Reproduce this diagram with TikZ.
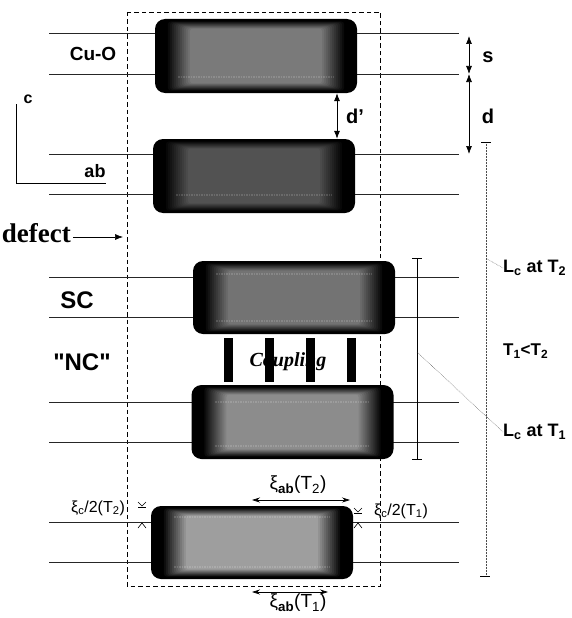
\documentclass[tikz,border=0pt]{standalone}
\usepackage{fontspec}
\setmainfont{Liberation Serif}
\setsansfont{Liberation Sans}
\newfontfamily\plainsans{Liberation Sans}
\usetikzlibrary{calc,arrows.meta}
\newcommand{\glowfill}[2]{%
  \foreach \k in {1,...,12}{%
    \pgfmathsetmacro\cc{100-(100-#2)*\k/12}%
    \pgfmathsetmacro\ddx{11+2*\k}%
    \pgfmathsetmacro\ddy{2+0.65*\k}%
    \fill[black!\cc, rounded corners=3pt] ($(#1.north west)+(\ddx,\ddy)$) rectangle ($(#1.south east)+(-\ddx,-\ddy)$);
  }}
\tikzset{
  blk/.style={fill=black, rounded corners=10pt, minimum width=202pt, minimum height=74pt, inner sep=0pt},
  plane/.style={line width=0.6pt, black!85},
  ghost/.style={line width=1.2pt, white, opacity=0.15, dash pattern=on 1.5pt off 1pt},
  lbl/.style={font=\sffamily\bfseries, inner sep=0pt},
  xlbl/.style={font=\sffamily, inner sep=0pt},
  dimarr/.style={{Latex[length=8pt,width=6pt]}-{Latex[length=8pt,width=6pt]}, line width=0.7pt},
  xiarr/.style={{Stealth[length=8pt,width=5pt]}-{Stealth[length=8pt,width=5pt]}, line width=0.6pt},
  bar/.style={fill=black, minimum width=9pt, minimum height=44pt, inner sep=0pt},
  leader/.style={densely dotted, line width=0.5pt, black!70},
  tickmark/.style={line width=0.6pt}
}
\begin{document}
\begin{tikzpicture}[x=1pt,y=-1pt]
\useasboundingbox (0,0) rectangle (572,618);
% dashed box
\draw[line width=0.8pt, dash pattern=on 4.5pt off 3pt] (127,12) rectangle (380,586);
% planes (lines)
\foreach \yy in {33,74,154,194,277,317,402,442,522,562}{
  \draw[plane] (49,\yy) -- (459,\yy);
}
% blocks
\node[blk] (b1) at (256,56) {};
\node[blk] (b2) at (254,176) {};
\node[blk, minimum height=73pt] (b3) at (294,297.5) {};
\node[blk] (b4) at (292.5,422) {};
\node[blk, minimum height=73pt] (b5) at (252,542.5) {};
\glowfill{b1}{52}
\glowfill{b2}{68}
\glowfill{b3}{55}
\glowfill{b4}{45}
\glowfill{b5}{38}
% faint planes seen through blocks
\draw[ghost] (178,77) -- (334,77);
\draw[ghost] (176,195) -- (332,195);
\draw[ghost] (216,274) -- (372,274);
\draw[ghost] (216,321) -- (372,321);
\draw[ghost] (215,402) -- (370,402);
\draw[ghost] (215,446) -- (370,446);
\draw[ghost] (174,517) -- (330,517);
\draw[ghost] (174,567) -- (330,567);
% coupling
\node[font=\rmfamily\bfseries\itshape\fontsize{20}{22}\selectfont, inner sep=0pt] (coup) at (288,362) {Coupling};
\node[bar] (k1) at (228,360) {};
\node[bar] (k2) at (269,360) {};
\node[bar] (k3) at (310,360) {};
\node[bar] (k4) at (351,360) {};
% left labels
\node[lbl, font=\sffamily\bfseries\fontsize{19}{21}\selectfont] (cuo) at (93,54) {Cu-O};
\node[lbl, font=\sffamily\bfseries\fontsize{16}{18}\selectfont] (cax) at (28,99) {c};
\node[lbl, font=\sffamily\bfseries\fontsize{18}{20}\selectfont] (abax) at (95,171) {ab};
\coordinate (ax0) at (16,104);
\coordinate (ax1) at (16,183);
\coordinate (ax2) at (106,183);
\draw[line width=0.6pt] (ax0) -- (ax1) -- (ax2);
\node[font=\rmfamily\bfseries\fontsize{27}{29}\selectfont, inner sep=0pt, anchor=east] (def) at (71,233) {defect};
\coordinate (defend) at (123,237);
\draw[-{Latex[length=8pt,width=6pt]}, line width=0.6pt] (73,237) -- (defend);
\node[lbl, font=\sffamily\bfseries\fontsize{24}{26}\selectfont] (sc) at (77,300) {SC};
\node[lbl, font=\plainsans\bfseries\fontsize{24}{26}\selectfont] (nc) at (82,362) {"NC"};
% s, d, d'
\coordinate (s0) at (469,36);
\coordinate (s1) at (469,74);
\coordinate (d1) at (469,154);
\draw[dimarr] (s0) -- (s1);
\draw[dimarr] (s1) -- (d1);
\node[lbl, font=\sffamily\bfseries\fontsize{20}{22}\selectfont] (slab) at (488,57) {s};
\node[lbl, font=\sffamily\bfseries\fontsize{20}{22}\selectfont] (dlab) at (488,116) {d};
\coordinate (dpx) at (337,0);
\draw[dimarr] (b1.south -| dpx) -- (b2.north -| dpx);
\node[lbl, font=\sffamily\bfseries\fontsize{20}{22}\selectfont] (dplab) at (355,116) {d’};
% Lc at T2 dotted line
\coordinate (lt2a) at (486,142);
\coordinate (lt2b) at (486,576);
\draw[leader] (lt2a) -- (lt2b);
\draw[line width=0.7pt] (481,142) -- (491,142);
\draw[line width=0.7pt] (480,576) -- (490,576);
% Lc at T1 solid line
\coordinate (lt1a) at (417,258);
\coordinate (lt1b) at (417,459);
\draw[line width=0.6pt] (lt1a) -- (lt1b);
\draw[line width=0.6pt] (412,258) -- (422,258);
\draw[line width=0.6pt] (412,459) -- (422,459);
% labels right
\node[lbl, font=\sffamily\bfseries\fontsize{18}{20}\selectfont, anchor=west] (lc2) at (503,268) {L\textsubscript{c} at T\textsubscript{2}};
\node[lbl, font=\sffamily\bfseries\fontsize{17}{19}\selectfont, anchor=west] (tt) at (503,351) {T\textsubscript{1}<T\textsubscript{2}};
\node[lbl, font=\sffamily\bfseries\fontsize{18}{20}\selectfont, anchor=west] (lc1) at (503,432) {L\textsubscript{c} at T\textsubscript{1}};
\coordinate (p2) at (487,259);
\coordinate (p1) at (417,352);
\draw[leader] (p2) -- (lc2.west);
\draw[leader] (p1) -- (lc1.west);
% xi labels
\node[xlbl, font=\sffamily\fontsize{19}{21}\selectfont] (xab2) at (298,485) {ξ\textsubscript{\bfseries ab}(T\textsubscript{2})};
\coordinate (xa0) at (252,500);
\coordinate (xa1) at (350,500);
\draw[xiarr] (xa0) -- (xa1);
\node[xlbl, font=\sffamily\fontsize{19}{21}\selectfont] (xab1) at (298,603) {ξ\textsubscript{\bfseries ab}(T\textsubscript{1})};
\coordinate (xb0) at (252,592);
\coordinate (xb1) at (328,592);
\draw[xiarr] (xb0) -- (xb1);
\node[xlbl, font=\sffamily\fontsize{16}{18}\selectfont] (xc2) at (98,508) {ξ\textsubscript{c}/2(T\textsubscript{2})};
\node[xlbl, font=\sffamily\fontsize{16}{18}\selectfont] (xc1) at (401,511) {ξ\textsubscript{c}/2(T\textsubscript{1})};
% small markers
\draw[tickmark] (138,502) -- (142,506) -- (146,502);
\draw[tickmark] (138,507) -- (146,507);
\draw[tickmark] (138,528) -- (142,523) -- (146,528);
\draw[tickmark] (354,508) -- (358,512) -- (362,508);
\draw[tickmark] (354,513) -- (362,513);
\draw[tickmark] (354,528) -- (358,523) -- (362,528);
\end{tikzpicture}
\end{document}
